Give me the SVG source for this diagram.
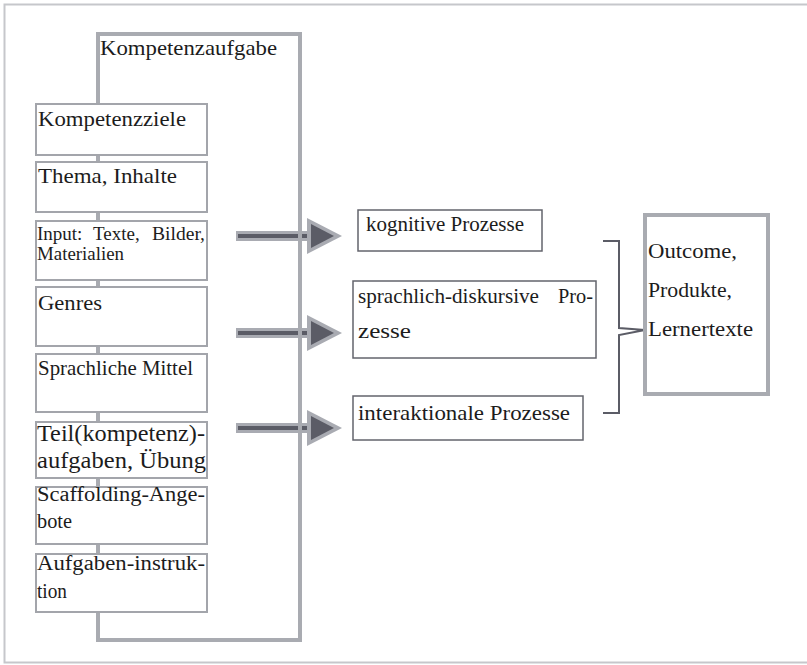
<svg xmlns="http://www.w3.org/2000/svg" xmlns:xlink="http://www.w3.org/1999/xlink" width="807" height="665" viewBox="0 0 807 665">
<style>
  .t { font-family: "Liberation Serif", "DejaVu Serif", "Times New Roman", serif; fill: #1c1c1c; }
  .frame { fill: none; stroke: #c6c7cb; stroke-width: 2; }
  .big { fill: none; stroke: #a9abb1; stroke-width: 4; }
  .item { fill: #ffffff; stroke: #a3a5ab; stroke-width: 2; }
  .proc { fill: #ffffff; stroke: #63646c; stroke-width: 1.5; }
  .out { fill: #ffffff; stroke: #a9abb1; stroke-width: 4; }
  .brace { fill: none; stroke: #5b5c66; stroke-width: 2; }
  .f22 { font-size: 22px; }
  .f21 { font-size: 21px; }
  .f20 { font-size: 20px; }
  .f19 { font-size: 19px; }
  .f23 { font-size: 23px; }
</style>
<defs>
  <g id="arrow">
    <rect x="236" y="-5" width="74" height="10" fill="#a9abb2"/>
    <rect x="238" y="-2" width="74" height="4" fill="#5b5c66"/>
    <polygon points="307,-18 307,18 342,0" fill="#a9abb2"/>
    <polygon points="311,-12 311,12 334,0" fill="#5b5c66"/>
  </g>
</defs>
<rect class="frame" x="4.5" y="4.5" width="810" height="658"/>

<g id="connectors">
  <use xlink:href="#arrow" y="236"/>
  <use xlink:href="#arrow" y="333"/>
  <use xlink:href="#arrow" y="428"/>
  <path class="brace" d="M603,241 H619 V328 L645,330 L619,335 V413 H603"/>
</g>

<g id="kompetenzaufgabe">
  <rect class="big" x="98" y="34" width="202" height="606"/>
  <text class="t f22" font-family="Liberation Serif, serif" x="100" y="55" textLength="177" lengthAdjust="spacingAndGlyphs">Kompetenzaufgabe</text>
</g>

<g id="kompetenzziele">
  <rect class="item" x="36" y="104" width="171" height="51"/>
  <text class="t f22" font-family="Liberation Serif, serif" x="38" y="126" textLength="148" lengthAdjust="spacingAndGlyphs">Kompetenzziele</text>
</g>
<g id="thema">
  <rect class="item" x="36" y="162" width="171" height="50"/>
  <text class="t f22" font-family="Liberation Serif, serif" x="38" y="183" textLength="139" lengthAdjust="spacingAndGlyphs">Thema, Inhalte</text>
</g>
<g id="input">
  <rect class="item" x="36" y="221" width="171" height="59"/>
  <text class="t f19" font-family="Liberation Serif, serif" x="37" y="240">Input:</text>
  <text class="t f19" font-family="Liberation Serif, serif" x="93" y="240">Texte,</text>
  <text class="t f19" font-family="Liberation Serif, serif" x="152" y="240" textLength="53" lengthAdjust="spacingAndGlyphs">Bilder,</text>
  <text class="t f19" font-family="Liberation Serif, serif" x="37" y="260" textLength="87" lengthAdjust="spacingAndGlyphs">Materialien</text>
</g>
<g id="genres">
  <rect class="item" x="36" y="287" width="171" height="59"/>
  <text class="t f22" font-family="Liberation Serif, serif" x="38" y="310" textLength="64" lengthAdjust="spacingAndGlyphs">Genres</text>
</g>
<g id="sprachliche-mittel">
  <rect class="item" x="36" y="354" width="171" height="58"/>
  <text class="t f21" font-family="Liberation Serif, serif" x="38" y="375" textLength="155" lengthAdjust="spacingAndGlyphs">Sprachliche Mittel</text>
</g>
<g id="teilaufgaben">
  <rect class="item" x="36" y="422" width="171" height="56"/>
  <text class="t f23" font-family="Liberation Serif, serif" x="37" y="441" textLength="168" lengthAdjust="spacingAndGlyphs">Teil(kompetenz)-</text>
  <text class="t f23" font-family="Liberation Serif, serif" x="37" y="468" textLength="169" lengthAdjust="spacingAndGlyphs">aufgaben, Übung</text>
</g>
<g id="scaffolding">
  <rect class="item" x="36" y="487" width="171" height="57"/>
  <text class="t f20" font-family="Liberation Serif, serif" x="37" y="501" textLength="168" lengthAdjust="spacingAndGlyphs">Scaffolding-Ange-</text>
  <text class="t f20" font-family="Liberation Serif, serif" x="37" y="528" textLength="35" lengthAdjust="spacingAndGlyphs">bote</text>
</g>
<g id="aufgaben-instruktion">
  <rect class="item" x="36" y="554" width="171" height="58"/>
  <text class="t f20" font-family="Liberation Serif, serif" x="37" y="570" textLength="168" lengthAdjust="spacingAndGlyphs">Aufgaben-instruk-</text>
  <text class="t f20" font-family="Liberation Serif, serif" x="37" y="598" textLength="30" lengthAdjust="spacingAndGlyphs">tion</text>
</g>

<g id="kognitive">
  <rect class="proc" x="358" y="210" width="184" height="41"/>
  <text class="t f21" font-family="Liberation Serif, serif" x="366" y="231" textLength="158" lengthAdjust="spacingAndGlyphs">kognitive Prozesse</text>
</g>
<g id="sprachlich-diskursive">
  <rect class="proc" x="353" y="281" width="243" height="77"/>
  <text class="t f21" font-family="Liberation Serif, serif" x="358" y="303" textLength="181" lengthAdjust="spacingAndGlyphs">sprachlich-diskursive</text>
  <text class="t f21" font-family="Liberation Serif, serif" x="558" y="303" textLength="35" lengthAdjust="spacingAndGlyphs">Pro-</text>
  <text class="t f21" font-family="Liberation Serif, serif" x="358" y="338" textLength="53" lengthAdjust="spacingAndGlyphs">zesse</text>
</g>
<g id="interaktionale">
  <rect class="proc" x="353" y="396" width="230" height="44"/>
  <text class="t f22" font-family="Liberation Serif, serif" x="358" y="420" textLength="212" lengthAdjust="spacingAndGlyphs">interaktionale Prozesse</text>
</g>

<g id="outcome">
  <rect class="out" x="645" y="215" width="123" height="179"/>
  <text class="t f22" font-family="Liberation Serif, serif" x="648" y="258" textLength="89" lengthAdjust="spacingAndGlyphs">Outcome,</text>
  <text class="t f22" font-family="Liberation Serif, serif" x="648" y="297" textLength="84" lengthAdjust="spacingAndGlyphs">Produkte,</text>
  <text class="t f22" font-family="Liberation Serif, serif" x="648" y="336" textLength="105" lengthAdjust="spacingAndGlyphs">Lernertexte</text>
</g>
</svg>
